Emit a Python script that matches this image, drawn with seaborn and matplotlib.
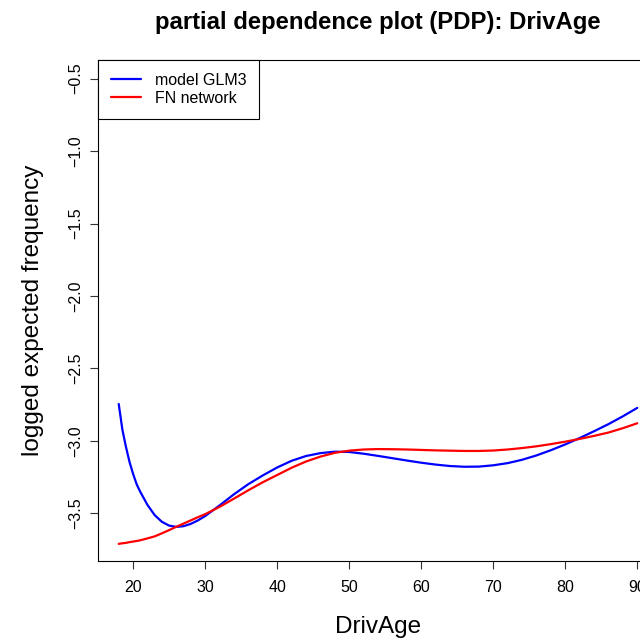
import numpy as np
import pandas as pd
import matplotlib
matplotlib.use("Agg")
import matplotlib.pyplot as plt
import seaborn as sns

# driver ages and PDP values
ages = [18, 18.5, 19, 19.5, 20, 20.5, 21, 22, 23, 24, 25, 26, 27, 28, 29, 30, 32,
        34, 36, 38, 40, 42, 44, 46, 48, 50, 52, 54, 56, 58, 60, 62, 64, 66, 68,
        70, 72, 74, 76, 78, 80, 82, 84, 86, 88, 90]
glm3 = [-2.745, -2.92, -3.04, -3.145, -3.228, -3.30, -3.352, -3.442, -3.512,
        -3.558, -3.584, -3.593, -3.588, -3.572, -3.548, -3.518, -3.445, -3.368,
        -3.298, -3.238, -3.183, -3.137, -3.104, -3.084, -3.074, -3.076, -3.088,
        -3.103, -3.119, -3.135, -3.150, -3.163, -3.173, -3.178, -3.177, -3.168,
        -3.153, -3.130, -3.100, -3.064, -3.024, -2.980, -2.933, -2.884, -2.830,
        -2.772]
fn_net = [-3.710, -3.706, -3.703, -3.698, -3.694, -3.690, -3.685, -3.672, -3.658,
          -3.637, -3.615, -3.592, -3.570, -3.548, -3.526, -3.505, -3.455, -3.398,
          -3.340, -3.285, -3.235, -3.185, -3.142, -3.108, -3.082, -3.067, -3.059,
          -3.056, -3.057, -3.059, -3.062, -3.065, -3.067, -3.069, -3.069, -3.066,
          -3.059, -3.049, -3.037, -3.022, -3.005, -2.986, -2.965, -2.942, -2.912,
          -2.878]
series_names = ["model GLM3", "FN network"]
x_ticks = [20, 30, 40, 50, 60, 70, 80, 90]
y_ticks = [-3.5, -3.0, -2.5, -2.0, -1.5, -1.0, -0.5]

df = pd.DataFrame({
    "DrivAge": ages * 2,
    "value": glm3 + fn_net,
    "model": [series_names[0]] * len(ages) + [series_names[1]] * len(ages),
})

sns.set_style("white", {"text.color": "black", "axes.labelcolor": "black",
                        "xtick.color": "black", "ytick.color": "black"})
plt.rcParams['font.family'] = ['Liberation Sans', 'DejaVu Sans']

fig = plt.figure(figsize=(6.4, 6.39), dpi=100)
ax = fig.add_axes([0.1531, 0.1221, 0.875, 0.784])

sns.lineplot(data=df, x="DrivAge", y="value", hue="model", estimator=None,
             palette={"model GLM3": "#0000ff", "FN network": "#ff0000"},
             linewidth=1.6, ax=ax)

ax.set_xlim(15.12, 92.88)
ax.set_ylim(-3.828, -0.372)
ax.set_xticks(x_ticks)
ax.set_xticklabels([str(t) for t in x_ticks])
ax.set_yticks(y_ticks)
ax.set_yticklabels(["\u2212%.1f" % abs(t) for t in y_ticks], rotation=90, va="center")

for s in ax.spines.values():
    s.set_visible(True)
    s.set_color("black")
    s.set_linewidth(0.8)
ax.tick_params(axis="both", direction="out", length=5.8, width=0.8, color="#333333",
               labelcolor="black", labelsize=11.5, left=True, bottom=True)
ax.tick_params(axis="x", pad=8)
ax.tick_params(axis="y", pad=5)

ax.set_xlabel("DrivAge", fontsize=17.5, color="black")
ax.xaxis.set_label_coords(0.5, -0.1317)
ax.xaxis.label.set_va("center")
ax.set_ylabel("logged expected frequency", fontsize=17.5, color="black")
ax.yaxis.set_label_coords(-0.116, 0.5)
ax.yaxis.label.set_va("center")

fig.text(378 / 640, 1 - 28.5 / 639, "partial dependence plot (PDP): DrivAge",
         ha="center", va="baseline", fontsize=17.2, fontweight="bold", color="black")

leg = ax.legend(loc="upper left", bbox_to_anchor=(0, 1), borderaxespad=0, fontsize=11.5,
                frameon=True, fancybox=False, framealpha=1, edgecolor="black",
                handlelength=1.9, handletextpad=0.84, borderpad=0.8, labelspacing=0.2,
                title=None)
leg.get_frame().set_linewidth(0.8)
for t in leg.get_texts():
    t.set_color("black")

fig.savefig("out.png", dpi=100)
